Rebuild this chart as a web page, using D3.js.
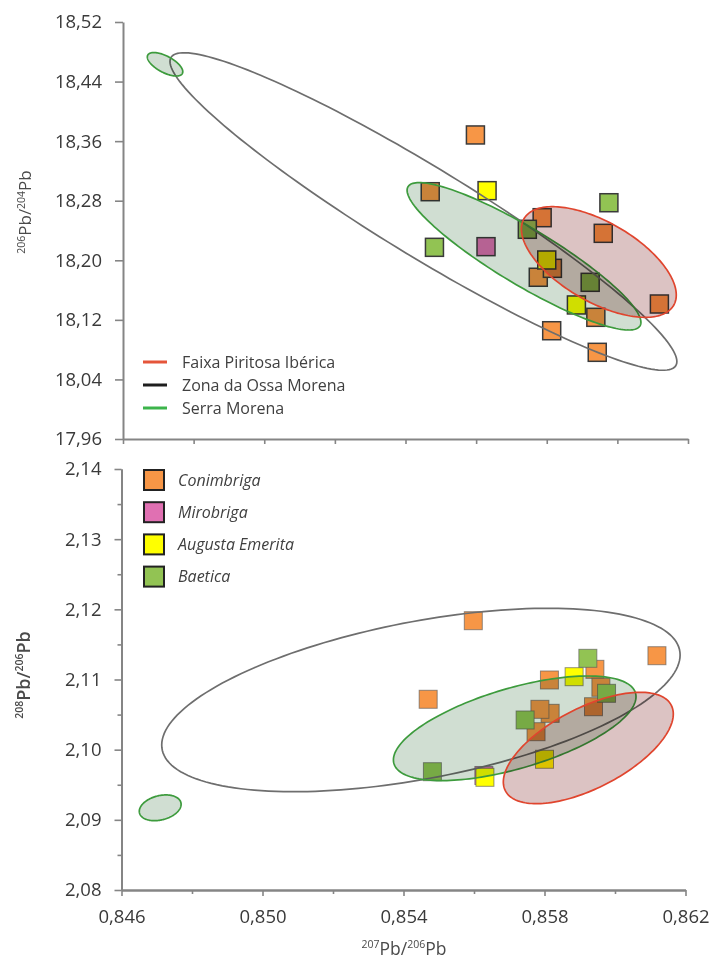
<!DOCTYPE html>
<html>
<head>
<meta charset="utf-8">
<script src="https://cdn.jsdelivr.net/npm/d3@7"></script>
<style>
  body { margin: 0; background: #fff; }
  svg { display: block; font-family: "Open Sans", "Liberation Sans", sans-serif; }
  .blend { mix-blend-mode: multiply; }
</style>
</head>
<body>
<svg id="chart" width="712" height="960"></svg>
<script>
// Each row: 207Pb/206Pb, 206Pb/204Pb, 208Pb/206Pb
const conimbriga = [
  [0.85470, 18.2921, 2.10718],
  [0.85598, 18.3683, 2.11838],
  [0.85776, 18.1772, 2.10256],
  [0.85816, 18.1892, 2.10518],
  [0.85787, 18.2572, 2.10575],
  [0.85814, 18.1054, 2.10993],
  [0.85939, 18.1234, 2.10612],
  [0.85943, 18.0764, 2.11145],
  [0.85960, 18.2362, 2.10889],
  [0.86119, 18.1413, 2.11339]
];
const mirobriga = [
  [0.85628, 18.2183, 2.09632]
];
const augustaEmerita = [
  [0.85631, 18.2935, 2.09606],
  [0.85800, 18.2004, 2.09863],
  [0.85884, 18.1400, 2.11040]
];
const baetica = [
  [0.85482, 18.2174, 2.09686],
  [0.85745, 18.2416, 2.10423],
  [0.85923, 18.1704, 2.11302],
  [0.85976, 18.2773, 2.10803]
];

const siteNames = ["Conimbriga", "Mirobriga", "Augusta Emerita", "Baetica"];
const oreFieldNames = ["Faixa Piritosa Ibérica", "Zona da Ossa Morena", "Serra Morena"];

// Ore-field ellipses: [centre x, centre y, half-width in x,
//                      y offset at the right-hand end, vertical half-chord at the centre]
const faixaPiritosa64 = [[0.859475, 18.1977, 0.002193, -0.04432, 0.05963]];
const ossaMorena64    = [[0.854508, 18.26551, 0.007177, -0.20144, 0.06983]];
const serraMorena64   = [[0.857356, 18.20535, 0.003311, -0.08863, 0.04405],
                         [0.847191, 18.4632, 0.000502, -0.00994, 0.01222]];
const faixaPiritosa86 = [[0.859243, 2.100238, 0.002411, 0.004846, 0.006285]];
const ossaMorena86    = [[0.854494, 2.107078, 0.007353, 0.006413, 0.011387]];
const serraMorena86   = [[0.857155, 2.103045, 0.003441, 0.004503, 0.005943],
                         [0.847098, 2.091715, 0.000593, 0.000499, 0.001767]];

// Axis ticks
const xTicks = [0.846, 0.850, 0.854, 0.858, 0.862];
const xMinorTicks = [0.848, 0.852, 0.856, 0.860];
const y64Ticks = [17.96, 18.04, 18.12, 18.20, 18.28, 18.36, 18.44, 18.52];
const y86Ticks = [2.08, 2.09, 2.10, 2.11, 2.12, 2.13, 2.14];
const y86MinorTicks = [2.085, 2.095, 2.105, 2.115, 2.125, 2.135];

// ---------- drawing ----------
const siteColors = ["#f79646", "#e070b2", "#ffff00", "#92c353"];
const fieldStroke = ["#e0452e", "#6e6e6e", "#3d9b3d"];
const fieldFill = ["#dcc3c3", "none", "#d0ded2"];
const legendLine = ["#e5553a", "#1e1e1e", "#3cb44b"];

const pt = d3.formatLocale({ decimal: ",", thousands: ".", grouping: [3], currency: ["", ""] });
const fmt2 = pt.format(".2f");
const fmt3 = pt.format(".3f");

const svg = d3.select("#chart");
svg.append("rect").attr("width", 712).attr("height", 960).attr("fill", "#fff");

const xTop = d3.scaleLinear().domain([0.846, 0.862]).range([123, 688]);
const yTop = d3.scaleLinear().domain([17.96, 18.52]).range([439, 22]);
const xBot = d3.scaleLinear().domain([0.846, 0.862]).range([121.5, 685.5]);
const yBot = d3.scaleLinear().domain([2.08, 2.14]).range([890, 469]);

const sites = [conimbriga, mirobriga, augustaEmerita, baetica];
const fields = {
  top: [faixaPiritosa64, ossaMorena64, serraMorena64],
  bot: [faixaPiritosa86, ossaMorena86, serraMorena86]
};

function ellipsePoints(e) {
  const [cx, cy, rx, ryR, h] = e;
  return d3.range(0, 360, 2).map(a => {
    const t = a * Math.PI / 180;
    return [cx + rx * Math.cos(t), cy + ryR * Math.cos(t) + h * Math.sin(t)];
  });
}

function styleAxis(g) {
  g.select(".domain").attr("stroke", "#858585").attr("stroke-width", 2);
  g.selectAll(".tick line").attr("stroke", "#858585").attr("stroke-width", 1.6);
  g.selectAll(".tick text").attr("fill", "#3a3a3a").attr("font-size", 18.5)
    .attr("font-family", "'Open Sans', sans-serif");
}

function panel(x, y, col, fieldSet, markerStroke, markerStrokeW) {
  const g = svg.append("g");
  // markers
  sites.forEach((rows, i) => {
    g.append("g").selectAll("rect").data(rows).join("rect")
      .attr("x", d => x(d[0]) - 9)
      .attr("y", d => y(d[col]) - 9)
      .attr("width", 18).attr("height", 18)
      .attr("fill", siteColors[i])
      .attr("stroke", markerStroke)
      .attr("stroke-width", markerStrokeW);
  });
  const line = d3.line().x(d => x(d[0])).y(d => y(d[1])).curve(d3.curveLinearClosed);
  // ore-field ellipses: Ossa Morena, Serra Morena, Faixa Piritosa (drawn over the markers)
  [1, 2, 0].forEach(k => {
    fieldSet[k].forEach(e => {
      const pts = ellipsePoints(e);
      if (fieldFill[k] !== "none") {
        g.append("path").attr("class", "blend").attr("d", line(pts))
          .attr("fill", fieldFill[k]).attr("stroke", "none");
      }
      g.append("path").attr("d", line(pts))
        .attr("fill", "none").attr("stroke", fieldStroke[k]).attr("stroke-width", 1.7);
    });
  });
  return g;
}

// ---- upper panel: 206Pb/204Pb ----
panel(xTop, yTop, 1, fields.top, "#3a3a3a", 1.5);

svg.append("g").attr("transform", "translate(123,0)")
  .call(d3.axisLeft(yTop).tickValues(y64Ticks).tickSize(8).tickSizeOuter(0)
    .tickPadding(13).tickFormat(fmt2))
  .call(styleAxis);
svg.append("g").attr("transform", "translate(0,439)")
  .call(d3.axisBottom(xTop).tickValues(xTicks.concat(xMinorTicks)).tickSize(5)
    .tickSizeOuter(0).tickFormat(""))
  .call(styleAxis);

// ---- lower panel: 208Pb/206Pb ----
panel(xBot, yBot, 2, fields.bot, "rgba(90,90,90,0.65)", 1);

svg.append("g").attr("transform", "translate(121.5,0)")
  .call(d3.axisLeft(yBot).tickValues(y86MinorTicks).tickSize(4).tickSizeOuter(0).tickFormat(""))
  .call(styleAxis);
svg.append("g").attr("transform", "translate(121.5,0)")
  .call(d3.axisLeft(yBot).tickValues(y86Ticks).tickSize(7).tickSizeOuter(0)
    .tickPadding(13).tickFormat(fmt2))
  .call(styleAxis);
svg.append("g").attr("transform", "translate(0,890)")
  .call(d3.axisBottom(xBot).tickValues(xMinorTicks).tickSize(4).tickSizeOuter(0).tickFormat(""))
  .call(styleAxis);
svg.append("g").attr("transform", "translate(0,890)")
  .call(d3.axisBottom(xBot).tickValues(xTicks).tickSize(6).tickSizeOuter(0)
    .tickPadding(14).tickFormat(fmt3))
  .call(styleAxis);

// ---- axis titles ----
function isotopeTitle(g, a, b, size, sup, weight) {
  const t = g.append("text").attr("fill", "#4a4a4a").attr("text-anchor", "middle")
    .attr("font-size", size).attr("font-weight", weight || 400);
  t.append("tspan").attr("font-size", sup).attr("dy", -size * 0.38).text(a);
  t.append("tspan").attr("dy", size * 0.38).text("Pb/");
  t.append("tspan").attr("font-size", sup).attr("dy", -size * 0.38).text(b);
  t.append("tspan").attr("dy", size * 0.38).text("Pb");
  return t;
}
isotopeTitle(svg.append("g").attr("transform", "translate(31,212) rotate(-90)"), "206", "204", 17, 10.5);
isotopeTitle(svg.append("g").attr("transform", "translate(30,675) rotate(-90)"), "208", "206", 18, 10.5, 600);
isotopeTitle(svg.append("g").attr("transform", "translate(404,955)"), "207", "206", 17.5, 10.5);

// ---- legends ----
const legTop = svg.append("g");
oreFieldNames.forEach((name, i) => {
  const yy = 362 + i * 23;
  legTop.append("line").attr("x1", 143).attr("x2", 167).attr("y1", yy).attr("y2", yy)
    .attr("stroke", legendLine[i]).attr("stroke-width", 3);
  legTop.append("text").attr("x", 182).attr("y", yy).attr("dy", "0.35em")
    .attr("font-size", 16).attr("fill", "#404040").text(name);
});

const legBot = svg.append("g");
siteNames.forEach((name, i) => {
  const yy = 480 + i * 32.2;
  legBot.append("rect").attr("x", 144).attr("y", yy - 10).attr("width", 20).attr("height", 20)
    .attr("fill", siteColors[i]).attr("stroke", "#222").attr("stroke-width", 2);
  legBot.append("text").attr("x", 178).attr("y", yy).attr("dy", "0.35em")
    .attr("font-size", 16).attr("font-style", "italic").attr("fill", "#404040").text(name);
});
</script>
</body>
</html>
